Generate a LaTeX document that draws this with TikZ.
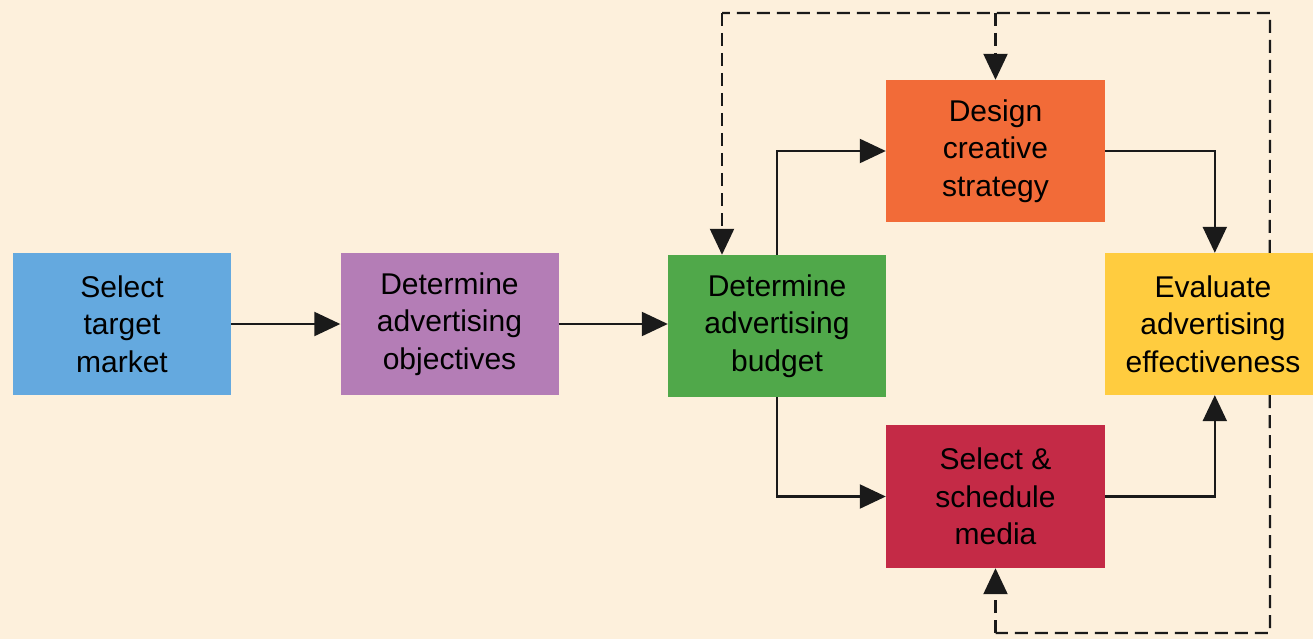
\documentclass[tikz,border=0pt]{standalone}
\usepackage{fontspec}
\setmainfont{Liberation Sans}
\usetikzlibrary{arrows.meta}
\definecolor{bg}{HTML}{FDF0DC}
\definecolor{cblue}{HTML}{64A9DF}
\definecolor{cpurple}{HTML}{B47DB6}
\definecolor{cgreen}{HTML}{50A84A}
\definecolor{corange}{HTML}{F26B38}
\definecolor{cred}{HTML}{C42A46}
\definecolor{cyellow}{HTML}{FFCC3F}
\definecolor{cline}{HTML}{1A1A1A}
\tikzset{
  box/.style={draw=none, inner sep=0pt, minimum width=218pt, minimum height=142pt, align=center, font=\fontsize{30}{37.5}\selectfont, text=black},
  tip/.style={-{Triangle[length=26pt,width=24pt]}},
  arr/.style={line width=2.2pt, draw=cline, tip},
  darr/.style={line width=2.2pt, draw=cline, dash pattern=on 13pt off 7pt, tip},
  dline/.style={line width=2.2pt, draw=cline, dash pattern=on 13pt off 7pt},
}
\begin{document}
\begin{tikzpicture}[x=1pt,y=-1pt]
\fill[bg] (0,0) rectangle (1313,639);
\useasboundingbox (0,0) rectangle (1313,639);
\node[box, fill=cblue] (stm) at (122,324) {Select\\target\\market};
\node[box, fill=cpurple] (dao) at (449.5,324) {Determine\\advertising\\objectives};
\node[box, fill=cgreen] (dab) at (777,326) {Determine\\advertising\\budget};
\node[box, fill=corange, minimum width=219pt] (dcs) at (995.5,151) {Design\\creative\\strategy};
\node[box, fill=cred, minimum width=219pt, minimum height=143pt] (ssm) at (995.5,496.5) {Select \&\\schedule\\media};
\node[box, fill=cyellow, minimum width=216pt] (eae) at (1213,324) {Evaluate\\advertising\\effectiveness};
\coordinate (ytop) at ([xshift=110pt]eae.north west);
\coordinate (ybot) at ([xshift=110pt]eae.south west);
\coordinate (ytopr) at ([xshift=165pt]eae.north west);
\coordinate (ybotr) at ([xshift=165pt]eae.south west);
\coordinate (tl) at (722,13);
\coordinate (tr) at (1270,13);
\coordinate (tm) at (995.5,13);
\coordinate (br) at (1270,633);
\coordinate (bm) at (995.5,633);
\draw[arr] (stm.east) -- (dao.west);
\draw[arr] (dao.east) -- (dao.east -| dab.west);
\draw[arr] (dab.north) |- (dcs.west);
\draw[arr] (dab.south) |- (ssm.west);
\draw[arr] (dcs.east) -| (ytop);
\draw[arr] (ssm.east) -| (ybot);
\draw[dline] (ytopr) -- (tr) -- (tl);
\draw[darr] (tl) -- (tl |- dab.north);
\draw[darr] (tm) -- (dcs.north);
\draw[dline] (ybotr) -- (br) -- (bm);
\draw[darr] (bm) -- (ssm.south);
\end{tikzpicture}
\end{document}
